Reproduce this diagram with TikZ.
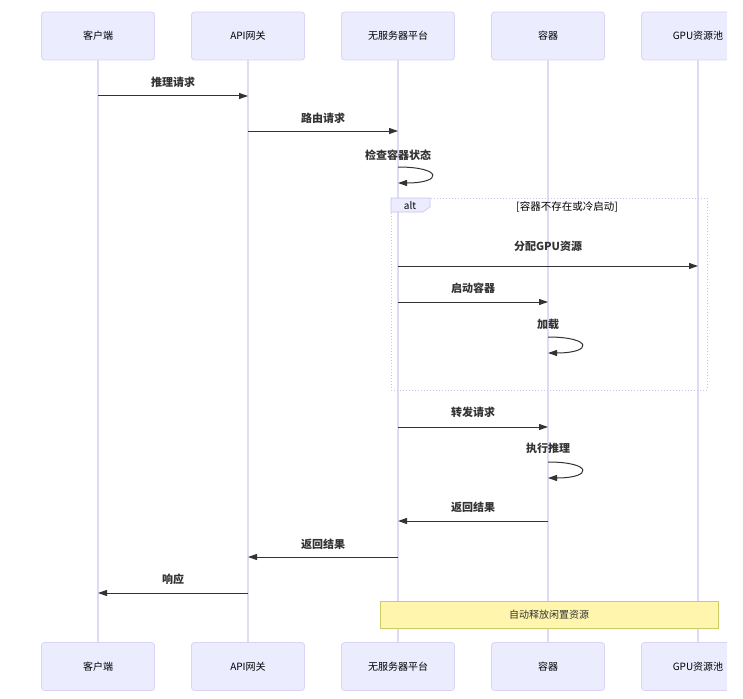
\documentclass[tikz,border=0pt]{standalone}
\usepackage{fontspec}
\setmainfont{Noto Sans CJK SC}
\usetikzlibrary{arrows.meta}
\definecolor{boxfill}{HTML}{ECECFF}
\definecolor{boxline}{HTML}{D9D3F7}
\definecolor{life}{HTML}{E0DAF5}
\definecolor{framec}{HTML}{C8C0F0}
\definecolor{txt}{HTML}{333333}
\definecolor{notefill}{HTML}{FFF5AD}
\definecolor{noteline}{HTML}{CCCC66}
\tikzset{
  part/.style={draw=boxline, fill=boxfill, rounded corners=3pt, minimum width=113pt, minimum height=48pt, font=\fontsize{10}{12}\selectfont, text=black, line width=0.8pt},
  lifeline/.style={draw=life, line width=1.6pt},
  msg/.style={draw=txt, line width=1pt, -{Triangle[length=9pt,width=6pt]}},
  lbl/.style={font=\bfseries\fontsize{11}{13}\selectfont, text=txt},
  frame/.style={draw=framec, dotted, line width=1pt},
}
\begin{document}
\begin{tikzpicture}[x=1pt,y=-1pt]
\useasboundingbox (0,0) rectangle (743,698);
\clip (0,0) rectangle (727,698);
% participants
\foreach \n/\x/\t in {A/98/客户端, B/248/API网关, C/398/无服务器平台, D/548/容器, E/698/GPU资源池}{
  \node[part] (\n top) at (\x,36) {\t};
  \node[part] (\n bot) at (\x,666.5) {\t};
  \draw[lifeline] (\n top.south) -- (\n bot.north);
}
% alt frame
\draw[frame] (391,198) rectangle (707,390);
\path[fill=boxfill, draw=framec, line width=0.6pt] (391,198) -- (430,198) -- (430,207) -- (423,212) -- (391,212) -- cycle;
\node[font=\fontsize{10}{12}\selectfont, text=black] (altlbl) at (410,206) {alt};
\node[font=\fontsize{10.5}{12}\selectfont, text=black] (cond) at (567,207) {[容器不存在或冷启动]};
% messages
\draw[msg] (Atop.south |- 0,96) -- (Btop.south |- 0,96);
\node[lbl] (l1) at (173,82) {推理请求};
\draw[msg] (Btop.south |- 0,131) -- (Ctop.south |- 0,131);
\node[lbl] (l2) at (323,118) {路由请求};
\node[lbl] (l3) at (398,155) {检查容器状态};
\draw[msg] (Ctop.south |- 0,167) .. controls (443,167) and (443,183) .. (Ctop.south |- 0,183);
\draw[msg] (Ctop.south |- 0,266) -- (Etop.south |- 0,266);
\node[lbl] (l4) at (548,246) {分配GPU资源};
\draw[msg] (Ctop.south |- 0,302) -- (Dtop.south |- 0,302);
\node[lbl] (l5) at (473,288) {启动容器};
\node[lbl] (l6) at (548,324) {加载};
\draw[msg] (Dtop.south |- 0,337) .. controls (593,337) and (593,353) .. (Dtop.south |- 0,353);
\draw[msg] (Ctop.south |- 0,427) -- (Dtop.south |- 0,427);
\node[lbl] (l7) at (473,412) {转发请求};
\node[lbl] (l8) at (548,448) {执行推理};
\draw[msg] (Dtop.south |- 0,462) .. controls (593,462) and (593,478) .. (Dtop.south |- 0,478);
\draw[msg] (Dtop.south |- 0,521) -- (Ctop.south |- 0,521);
\node[lbl] (l9) at (473,507) {返回结果};
\draw[msg] (Ctop.south |- 0,557) -- (Btop.south |- 0,557);
\node[lbl] (l10) at (323,544) {返回结果};
\draw[msg] (Btop.south |- 0,593) -- (Atop.south |- 0,593);
\node[lbl] (l11) at (173,579) {响应};
% note
\node[draw=noteline, fill=notefill, line width=0.8pt, minimum width=338pt, minimum height=27pt, font=\fontsize{10}{12}\selectfont, text=txt] (note) at (549,614.5) {自动释放闲置资源};
\end{tikzpicture}
\end{document}
